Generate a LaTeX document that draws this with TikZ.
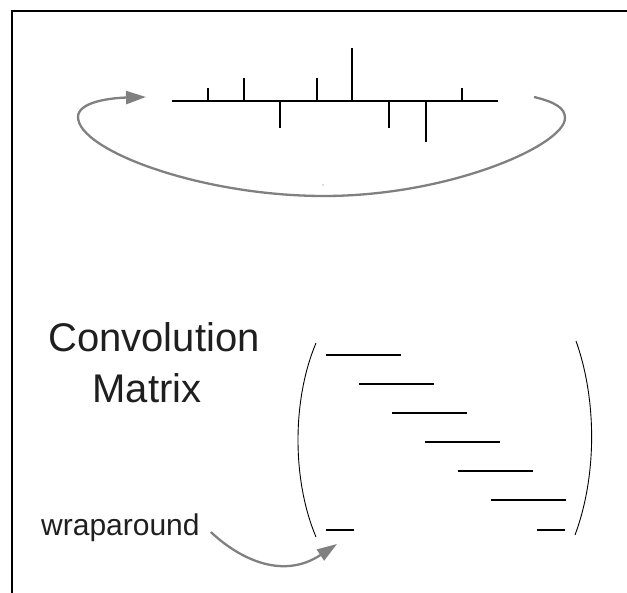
\documentclass[tikz,border=0pt]{standalone}
\usepackage{fontspec}
\setmainfont{Liberation Sans}
\usetikzlibrary{arrows.meta}
\begin{document}
\begin{tikzpicture}[x=1pt,y=-1pt,
  frame/.style={line width=2pt,black},
  stem/.style={line width=2pt,black},
  row/.style={line width=2pt,black},
  paren/.style={line width=0.9pt,black},
  wrap/.style={line width=2.3pt,draw={rgb,255:red,128;green,128;blue,128},
    -{Triangle[length=20pt,width=13pt]}},
  lbl/.style={inner sep=0pt,anchor=base,text=black!88}]
\useasboundingbox (0,0) rectangle (627,593);
% frame
\draw[frame] (627,11) -- (12,11) -- (12,593);
% signal axis
\coordinate (a0) at (172,101.5);
\coordinate (a1) at (498,101.5);
\draw[stem] (a0) -- (a1);
\foreach \x/\y [count=\i] in {208/88,244/78,280/128,317/78,352/48,389/128,426/142,462/88}{
  \draw[stem] (\x,101.5) -- (\x,\y);
}
% loop arrow
\coordinate (ls) at (534,97);
\coordinate (lr) at (565,118);
\coordinate (lb) at (324,196);
\coordinate (ll) at (78,117);
\coordinate (le) at (146,97);
\draw[wrap] (ls) .. controls (555,102) and (565,108) .. (lr)
  .. controls (565,145) and (450,196) .. (lb)
  .. controls (200,196) and (78,150) .. (ll)
  .. controls (78,102) and (110,98) .. (le);
\fill[black!60] (323,185) circle (0.6);
% labels
\node[lbl,font=\fontsize{40}{48}\selectfont] (conv) at (154,352) {Convolution};
\node[lbl,font=\fontsize{40}{48}\selectfont] (matr) at (147,403) {Matrix};
\node[lbl,font=\fontsize{30}{36}\selectfont,anchor=base west] (wrapl) at (41,536) {wraparound};
% matrix parens
\draw[paren] (316,343) .. controls (292,400) and (292,480) .. (316,537);
\draw[paren] (576,341) .. controls (597,400) and (597,476) .. (575,535);
% rows
\foreach \xa/\xb/\y in {326/401/355,359/434/384,392/467/413,425/500/442,458/533/471,491/566/500,326/354/530,537/565/530}{
  \draw[row] (\xa,\y) -- (\xb,\y);
}
% wraparound arrow
\coordinate (wt) at (337,544);
\draw[wrap] ([xshift=11pt,yshift=4pt]wrapl.base east) .. controls (235,555) and (280,582) .. (wt);
\end{tikzpicture}
\end{document}
